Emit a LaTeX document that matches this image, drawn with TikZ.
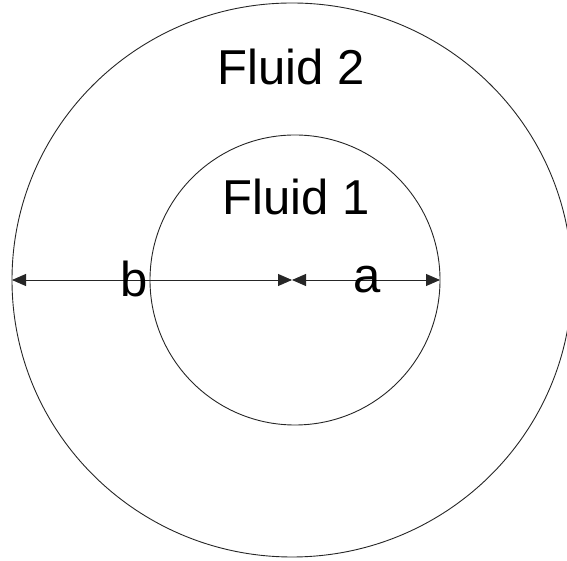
\documentclass[tikz,border=0pt]{standalone}
\usepackage{fontspec}
\setmainfont{Liberation Sans}
\usetikzlibrary{arrows.meta}
\begin{document}
\begin{tikzpicture}[x=1pt,y=1pt,
  ring/.style={draw=black!85,line width=0.9pt},
  dim/.style={draw=black!85,line width=0.9pt,{Triangle[length=14pt,width=12pt]}-{Triangle[length=14pt,width=12pt]}},
  lbl/.style={inner sep=0pt,anchor=base,font=\fontsize{49}{49}\selectfont}]
\useasboundingbox (0,0) rectangle (567,561);
\begin{scope}
\clip (0,0) rectangle (567,561);
\draw[ring] (292,281) ellipse [x radius=280,y radius=277];
\end{scope}
\draw[ring] (295,281) circle [radius=145];
\coordinate (c) at (292,281);
\coordinate (bl) at (12,281);
\coordinate (ar) at (440,281);
\draw[dim] (bl) -- (c);
\draw[dim] (c) -- (ar);
\node[lbl] (f2) at (291,476) {Fluid 2};
\node[lbl] (f1) at (296,346) {Fluid 1};
\node[lbl] (b) at (134,264) {b};
\node[lbl] (a) at (367,268) {a};
\end{tikzpicture}
\end{document}
